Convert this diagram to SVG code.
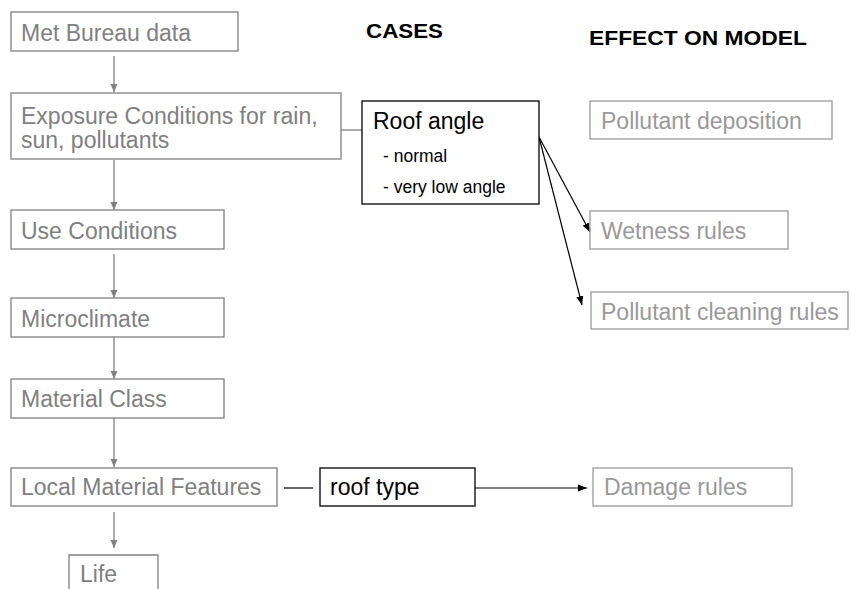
<svg xmlns="http://www.w3.org/2000/svg" width="851" height="589" viewBox="0 0 851 589">
<style>
  .box { fill: #ffffff; stroke: #808080; stroke-width: 1.3; }
  .rbox { fill: #ffffff; stroke: #9a9a9a; stroke-width: 1.3; }
  .kbox { fill: #ffffff; stroke: #000000; stroke-width: 1.3; }
  .t { font-family: "Liberation Sans", Arial, sans-serif; font-size: 23px; fill: #808080; }
  .rt { font-family: "Liberation Sans", Arial, sans-serif; font-size: 23px; fill: #999999; }
  .kt { font-family: "Liberation Sans", Arial, sans-serif; font-size: 23px; fill: #000000; }
  .st { font-family: "Liberation Sans", Arial, sans-serif; font-size: 17.5px; fill: #000000; }
  .h { font-family: "Liberation Sans", Arial, sans-serif; font-size: 20px; font-weight: bold; fill: #000000; }
  .gl { stroke: #808080; stroke-width: 1.3; fill: none; }
  .kl { stroke: #000000; stroke-width: 1.2; fill: none; }
</style>
<defs>
  <marker id="ag" markerUnits="userSpaceOnUse" markerWidth="9" markerHeight="8" refX="8" refY="4" orient="auto">
    <path d="M0,0.5 L8,4 L0,7.5 z" fill="#808080"/>
  </marker>
  <marker id="ak" markerUnits="userSpaceOnUse" markerWidth="10" markerHeight="8" refX="9" refY="4" orient="auto">
    <path d="M0,0.5 L9,4 L0,7.5 z" fill="#000000"/>
  </marker>
</defs>
<rect width="851" height="589" fill="#ffffff"/>

<text class="h" x="366" y="38" textLength="77" lengthAdjust="spacingAndGlyphs">CASES</text>
<text class="h" x="589" y="45" textLength="218" lengthAdjust="spacingAndGlyphs">EFFECT ON MODEL</text>

<g id="connectors">
  <line class="gl" x1="114" y1="56" x2="114" y2="92" marker-end="url(#ag)"/>
  <line class="gl" x1="114" y1="160" x2="114" y2="210" marker-end="url(#ag)"/>
  <line class="gl" x1="114" y1="254" x2="114" y2="298" marker-end="url(#ag)"/>
  <line class="gl" x1="114" y1="337" x2="114" y2="379" marker-end="url(#ag)"/>
  <line class="gl" x1="114" y1="418" x2="114" y2="467" marker-end="url(#ag)"/>
  <line class="gl" x1="114" y1="512" x2="114" y2="548" marker-end="url(#ag)"/>
  <line class="gl" x1="341" y1="130" x2="362" y2="130"/>
  <line class="kl" x1="539" y1="137" x2="590" y2="232" marker-end="url(#ak)"/>
  <line class="kl" x1="539" y1="137" x2="582" y2="305" marker-end="url(#ak)"/>
  <line class="kl" x1="284" y1="488" x2="313" y2="488"/>
  <line class="kl" x1="475" y1="488" x2="587" y2="488" marker-end="url(#ak)"/>
</g>

<g id="met-bureau">
  <rect class="box" x="11" y="12" width="227" height="39"/>
  <text class="t" x="21" y="41">Met Bureau data</text>
</g>
<g id="exposure">
  <rect class="box" x="11" y="93" width="330" height="66"/>
  <text class="t" x="21" y="124">Exposure Conditions for rain,</text>
  <text class="t" x="21" y="148">sun, pollutants</text>
</g>
<g id="use-conditions">
  <rect class="box" x="11" y="210" width="213" height="39"/>
  <text class="t" x="21" y="239">Use Conditions</text>
</g>
<g id="microclimate">
  <rect class="box" x="11" y="298" width="213" height="39"/>
  <text class="t" x="21" y="327">Microclimate</text>
</g>
<g id="material-class">
  <rect class="box" x="11" y="379" width="213" height="39"/>
  <text class="t" x="21" y="407">Material Class</text>
</g>
<g id="local-features">
  <rect class="box" x="11" y="468" width="266" height="38"/>
  <text class="t" x="21" y="495">Local Material Features</text>
</g>
<g id="life">
  <path class="box" d="M69,590 V555 H158 V590"/>
  <text class="t" x="80" y="582">Life</text>
</g>

<g id="roof-angle">
  <rect class="kbox" x="362" y="101" width="177" height="103"/>
  <text class="kt" x="373" y="129">Roof angle</text>
  <text class="st" x="383" y="162">- normal</text>
  <text class="st" x="383" y="193">- very low angle</text>
</g>
<g id="roof-type">
  <rect class="kbox" x="320" y="468" width="155" height="38"/>
  <text class="kt" x="330" y="495">roof type</text>
</g>

<g id="pollutant-deposition">
  <rect class="rbox" x="590" y="101" width="242" height="38"/>
  <text class="rt" x="601" y="129">Pollutant deposition</text>
</g>
<g id="wetness-rules">
  <rect class="rbox" x="590" y="211" width="198" height="38"/>
  <text class="rt" x="601" y="239">Wetness rules</text>
</g>
<g id="cleaning-rules">
  <rect class="rbox" x="591" y="292" width="257" height="37"/>
  <text class="rt" x="601" y="320">Pollutant cleaning rules</text>
</g>
<g id="damage-rules">
  <rect class="rbox" x="593" y="468" width="199" height="38"/>
  <text class="rt" x="604" y="495">Damage rules</text>
</g>
</svg>
